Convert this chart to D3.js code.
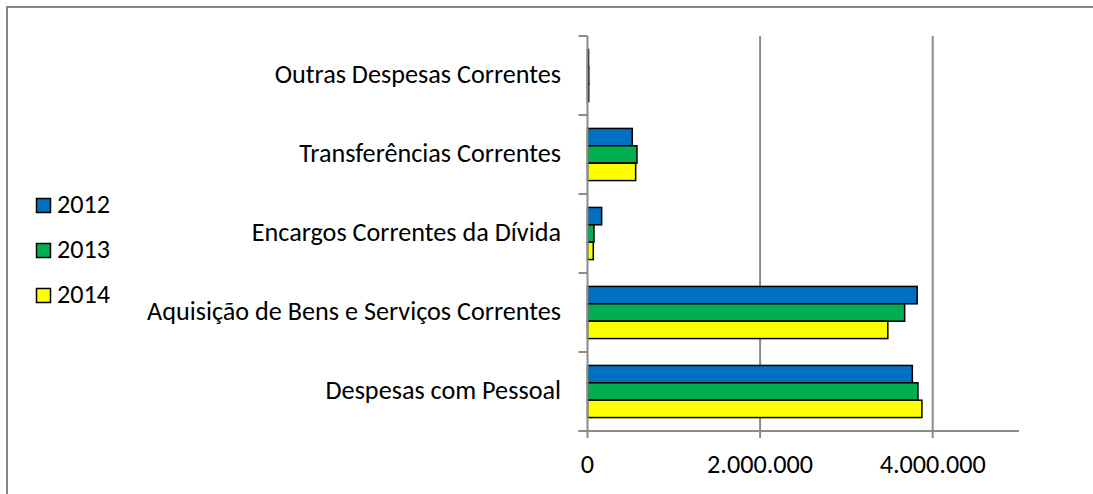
<!DOCTYPE html>
<html><head><meta charset="utf-8">
<script src="https://cdn.jsdelivr.net/npm/d3@7"></script>
<style>body{margin:0;background:#fff}svg{display:block}text{font-family:Carlito,Lato,"Open Sans",sans-serif;fill:#000}</style>
</head><body><svg id="c" width="1093" height="494"></svg>
<script>
const categories = ["Despesas com Pessoal","Aquisição de Bens e Serviços Correntes","Encargos Correntes da Dívida","Transferências Correntes","Outras Despesas Correntes"];
const seriesNames = ["2012","2013","2014"];
const v2012 = [3764000, 3820000, 164000, 519000, 12000];
const v2013 = [3829000, 3675000, 75000, 573000, 15000];
const v2014 = [3875000, 3480000, 67000, 558000, 14000];
const tickValues = [0, 2000000, 4000000];
const tickLabels = ["0","2.000.000","4.000.000"];
const colors = ["#0070C0","#00B050","#FFFF00"];

const svg = d3.select("#c");
const L=587.5, R=1019, T=36, B=431;
const FS=26.2;
const x = d3.scaleLinear().domain([0,5000000]).range([L,R]);
const y = d3.scaleBand().domain(categories.slice().reverse()).range([T,B]);

svg.append("rect").attr("x",7).attr("y",7).attr("width",1200).attr("height",600).attr("fill","none").attr("stroke","#868686").attr("stroke-width",2);

const grid="#8c8c8c";
svg.selectAll(".g").data(tickValues.slice(1)).enter().append("line")
 .attr("x1",d=>x(d)).attr("x2",d=>x(d)).attr("y1",T).attr("y2",B+7)
 .attr("stroke",grid).attr("stroke-width",2);
svg.append("line").attr("x1",L-9).attr("x2",R).attr("y1",B).attr("y2",B).attr("stroke",grid).attr("stroke-width",2);

const series=[v2012,v2013,v2014];
const bh = y.bandwidth()*0.22;
const groupH = bh*3;
series.forEach((vals,si)=>{
  svg.selectAll(".b"+si).data(categories).enter().append("rect")
   .attr("x",x(0))
   .attr("y",(d)=>y(d)+(y.bandwidth()-groupH)/2+si*bh)
   .attr("width",(d,i)=>x(vals[i])-x(0))
   .attr("height",bh)
   .attr("fill",colors[si]).attr("stroke","#000").attr("stroke-width",1.5);
});

svg.append("line").attr("x1",L).attr("x2",L).attr("y1",T).attr("y2",B+7).attr("stroke",grid).attr("stroke-width",2);
const bounds = categories.map(c=>y(c)).concat([B]);
svg.selectAll(".yt").data(bounds).enter().append("line")
 .attr("x1",L-9).attr("x2",L).attr("y1",d=>d).attr("y2",d=>d).attr("stroke",grid).attr("stroke-width",2);

svg.selectAll(".cl").data(categories).enter().append("text")
 .attr("x",561).attr("y",d=>y(d)+y.bandwidth()/2).attr("dy","0.28em")
 .attr("text-anchor","end").attr("font-size",FS).text(d=>d);

svg.selectAll(".tl").data(tickValues).enter().append("text")
 .attr("x",d=>x(d)).attr("y",465).attr("dy","0.3em").attr("text-anchor","middle")
 .attr("font-size",FS).text((d,i)=>tickLabels[i]);

seriesNames.forEach((s,i)=>{
  const cy=205.5+i*45;
  svg.append("rect").attr("x",36.5).attr("y",cy-7).attr("width",14).attr("height",14)
   .attr("fill",colors[i]).attr("stroke","#000").attr("stroke-width",1.5);
  svg.append("text").attr("x",57).attr("y",cy).attr("dy","0.28em").attr("font-size",FS).text(s);
});
</script></body></html>
